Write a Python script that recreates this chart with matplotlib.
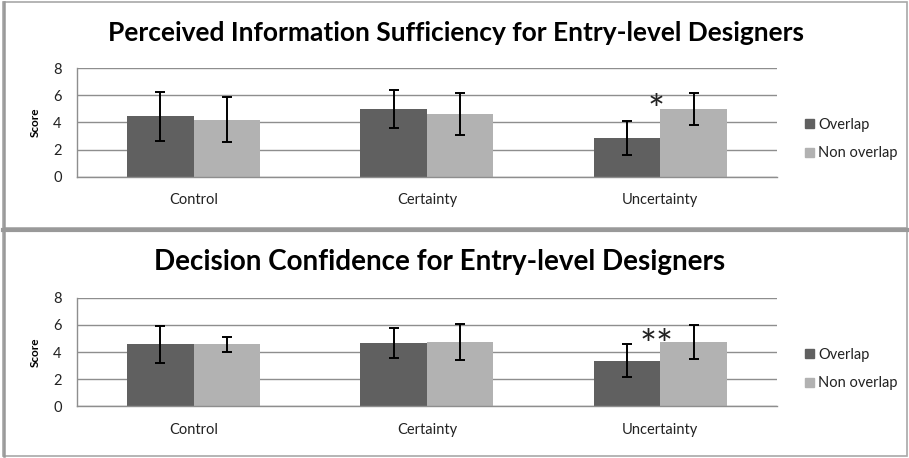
import numpy as np
import matplotlib
matplotlib.use('Agg')
import matplotlib.pyplot as plt
from matplotlib.patches import Rectangle, Patch
from matplotlib.lines import Line2D
from matplotlib.transforms import offset_copy

# Datos de las dos graficas
categories = ['Control', 'Certainty', 'Uncertainty']
series_names = ['Overlap', 'Non overlap']

sufficiency_overlap = [4.44, 4.98, 2.87]
sufficiency_overlap_err = [1.82, 1.42, 1.25]
sufficiency_non = [4.19, 4.59, 4.98]
sufficiency_non_err = [1.65, 1.55, 1.18]

confidence_overlap = [4.56, 4.66, 3.36]
confidence_overlap_err = [1.38, 1.12, 1.21]
confidence_non = [4.56, 4.76, 4.73]
confidence_non_err = [0.55, 1.32, 1.28]

titles = ['Perceived Information Sufficiency for Entry-level Designers',
          'Decision Confidence for Entry-level Designers']
marks = ['*', '**']
mark_heights = [5.8, 5.4]

W, H = 909, 458
DARK = '#606060'
LIGHT = '#b2b2b2'
GRID = '#8e8e8e'
FONT = 'Lato'

plt.rcParams['font.family'] = [FONT, 'DejaVu Sans']


def fx(px):
    return px / W


def fy(py):
    return 1 - py / H


fig = plt.figure(figsize=(W / 100, H / 100), dpi=100)

# --- marcos de cada panel ---
for top, bottom in [(2, 228), (231, 456)]:
    fig.patches.append(Rectangle((fx(3), fy(bottom)), fx(904), (bottom - top) / H,
                                 transform=fig.transFigure, fill=False,
                                 edgecolor='#a8a8a8', linewidth=1.2))
fig.add_artist(Line2D([fx(3.5), fx(3.5)], [fy(2), fy(456)], color='#999999',
                      linewidth=1.8))
fig.add_artist(Line2D([fx(3), fx(907)], [fy(229.5), fy(229.5)], color='#999999',
                      linewidth=3.0))

panels = [
    dict(top=68, bottom=176.7, title_y=33, title_x=456, title_size=19,
         ov=sufficiency_overlap, ov_err=sufficiency_overlap_err,
         non=sufficiency_non, non_err=sufficiency_non_err, leg_y=139),
    dict(top=297.7, bottom=406.3, title_y=262, title_x=440, title_size=20,
         ov=confidence_overlap, ov_err=confidence_overlap_err,
         non=confidence_non, non_err=confidence_non_err, leg_y=369),
]

x = np.arange(len(categories))
width = 0.285

for i, p in enumerate(panels):
    ax = fig.add_axes([fx(77), fy(p['bottom']), fx(700), (p['bottom'] - p['top']) / H])
    ax.bar(x - width / 2, p['ov'], width, color=DARK, zorder=2, label=series_names[0])
    ax.bar(x + width / 2, p['non'], width, color=LIGHT, zorder=2, label=series_names[1])
    ax.errorbar(x - width / 2, p['ov'], yerr=p['ov_err'], fmt='none', ecolor='black',
                elinewidth=1.4, capsize=3.5, capthick=1.4, zorder=3)
    ax.errorbar(x + width / 2, p['non'], yerr=p['non_err'], fmt='none', ecolor='black',
                elinewidth=1.4, capsize=3.5, capthick=1.4, zorder=3)

    ax.set_xlim(-0.5, len(categories) - 0.5)
    ax.set_ylim(0, 8)
    ax.set_yticks([0, 2, 4, 6, 8])
    ax.set_xticks(x)
    ax.set_xticklabels(categories)
    ax.tick_params(axis='both', length=0, labelsize=10.5, colors='#222222')
    ax.tick_params(axis='x', pad=12)
    ax.tick_params(axis='y', pad=11)
    ax.yaxis.grid(True, color=GRID, linewidth=1.0, zorder=0)
    for s in ['top', 'right']:
        ax.spines[s].set_visible(False)
    for s in ['left', 'bottom']:
        ax.spines[s].set_color(GRID)
        ax.spines[s].set_linewidth(1.0)
    ax.set_ylabel('Score', fontsize=8.5, fontweight='bold', labelpad=9)

    # asteriscos de significancia; el glifo de Lato queda alto,
    # asi que la linea base se baja unos 26 px
    tr = offset_copy(ax.transData, fig=fig, x=0, y=-26 * 0.72, units='points')
    ax.text(2 - 0.018, mark_heights[i], marks[i], ha='center', va='baseline',
            fontsize=29, color='#222222', zorder=4, transform=tr)

    fig.text(fx(p['title_x']), fy(p['title_y']), titles[i], ha='center', va='center',
             fontsize=p['title_size'], fontweight='bold', color='black')

    handles = [Patch(color=DARK), Patch(color=LIGHT)]
    fig.legend(handles, series_names, loc='center left',
               bbox_to_anchor=(fx(798), fy(p['leg_y'])), frameon=False,
               fontsize=10.5, handlelength=0.6, handleheight=0.6, handletextpad=0.3,
               labelspacing=1.0, borderpad=0, labelcolor='#222222')

fig.savefig('out.png', dpi=100, facecolor='white')
